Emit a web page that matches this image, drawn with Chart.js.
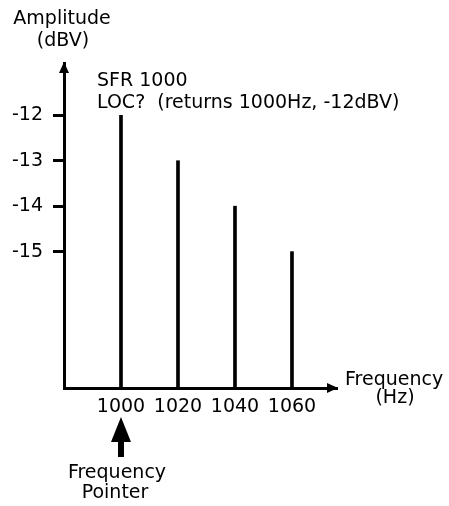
<!DOCTYPE html>
<html>
<head>
<meta charset="utf-8">
<script src="https://cdn.jsdelivr.net/npm/chart.js@4.4.1/dist/chart.umd.min.js"></script>
<style>
    html, body { margin: 0; padding: 0; background: #fff; }
    #wrap { width: 449px; height: 506px; }
</style>
</head>
<body>
<div id="wrap"><canvas id="spectrum"></canvas></div>
<script>
// Spectrum lines
const frequencies  = [1000, 1020, 1040, 1060];
const amplitudes   = [-12, -13, -14, -15];
const xTickValues  = [1000, 1020, 1040, 1060];
const yTickValues  = [-15, -14, -13, -12];
const pointerFreq  = 1000;

const FONT = '"DejaVu Sans"';
const SIZE = 19;
const INK  = '#000';

// arrows on the axes, the frequency pointer and the free text
const annotations = {
    id: 'annotations',
    afterDraw(chart) {
        const { ctx, chartArea: a, scales: { x } } = chart;
        ctx.save();
        ctx.fillStyle = INK;

        // y axis arrowhead
        ctx.beginPath();
        ctx.moveTo(a.left, a.top - 1);
        ctx.lineTo(a.left - 5, a.top + 10);
        ctx.lineTo(a.left + 5, a.top + 10);
        ctx.closePath();
        ctx.fill();

        // x axis arrowhead
        ctx.beginPath();
        ctx.moveTo(a.right + 1, a.bottom);
        ctx.lineTo(a.right - 10, a.bottom - 5);
        ctx.lineTo(a.right - 10, a.bottom + 5);
        ctx.closePath();
        ctx.fill();

        // frequency pointer
        const px = x.getPixelForValue(pointerFreq);
        ctx.beginPath();
        ctx.moveTo(px, 417);
        ctx.lineTo(px - 10, 442);
        ctx.lineTo(px + 10, 442);
        ctx.closePath();
        ctx.fill();
        ctx.fillRect(px - 3, 441, 6, 16);

        ctx.font = `${SIZE}px ${FONT}`;
        ctx.textBaseline = 'alphabetic';

        ctx.textAlign = 'center';
        ctx.fillText('Amplitude', 62, 24);
        ctx.fillText('(dBV)', 63, 46);
        ctx.fillText('(Hz)', 395, 403);
        ctx.fillText('Frequency', px - 4, 478);
        ctx.fillText('Pointer', px - 6, 498);

        ctx.textAlign = 'left';
        ctx.fillText('SFR 1000', 97, 86);
        ctx.fillText('LOC?  (returns 1000Hz, -12dBV)', 97, 108);
        ctx.fillText('Frequency', 345, 385);
        ctx.restore();
    }
};

new Chart(document.getElementById('spectrum'), {
    type: 'bar',
    data: {
        datasets: [{
            data: frequencies.map((f, i) => ({ x: f, y: amplitudes[i] })),
            base: -18,
            backgroundColor: INK,
            borderWidth: 0,
            barThickness: 3
        }]
    },
    options: {
        responsive: true,
        maintainAspectRatio: false,
        animation: false,
        layout: { padding: { top: 63, right: 112, left: 0, bottom: 0 } },
        plugins: { legend: { display: false }, tooltip: { enabled: false } },
        scales: {
            x: {
                type: 'linear',
                offset: false,
                min: 980, max: 1075.8,
                afterFit: s => { s.height = 118; },
                afterBuildTicks: s => { s.ticks = xTickValues.map(v => ({ value: v })); },
                grid: { display: false, offset: false },
                border: { display: true, color: INK, width: 3 },
                ticks: { color: INK, padding: 0, maxRotation: 0, autoSkip: false,
                         font: { family: FONT, size: SIZE }, callback: v => String(v) }
            },
            y: {
                type: 'linear',
                min: -18, max: -10.85,
                afterFit: s => { s.width = 64; },
                afterBuildTicks: s => { s.ticks = yTickValues.map(v => ({ value: v })); },
                grid: { drawOnChartArea: false, drawTicks: true, tickLength: 11, color: INK, lineWidth: 3 },
                border: { display: true, color: INK, width: 3 },
                ticks: { color: INK, padding: 10, autoSkip: false,
                         font: { family: FONT, size: SIZE }, callback: v => String(v) }
            }
        }
    },
    plugins: [annotations]
});
</script>
</body>
</html>
